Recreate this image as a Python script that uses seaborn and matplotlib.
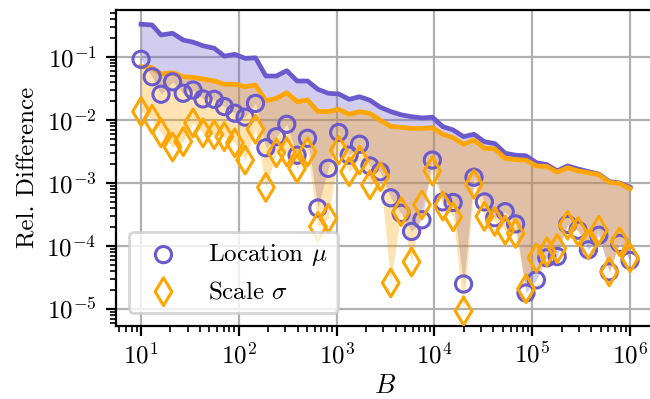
import numpy as np
import matplotlib
matplotlib.use("Agg")
import matplotlib.pyplot as plt
import seaborn as sns

# ---- data ----
B = [10, 13, 16, 21, 27, 34, 43, 56, 71, 91, 116, 148, 189, 242, 309, 394,
     504, 643, 822, 1050, 1342, 1714, 2190, 2798, 3574, 4566, 5834, 7453,
     9522, 12165, 15541, 19855, 25366, 32405, 41400, 52890, 67570, 86325,
     110285, 140892, 180000, 229960, 293780, 375320, 479490, 612570,
     782590, 1000000]

loc_diff = [0.091, 0.048, 0.0254, 0.040, 0.0263, 0.0296, 0.0214, 0.0211,
            0.0162, 0.0127, 0.011, 0.0182, 0.0036, 0.0054, 0.0085, 0.00275,
            0.0051, 0.0004, 0.0017, 0.0063, 0.00275, 0.0041, 0.00186, 0.0015,
            0.00058, 0.00033, 0.00017, 0.00026, 0.0023, 0.0005, 0.00049,
            2.5e-5, 0.00123, 0.0005, 0.00028, 0.00035, 0.000224, 1.8e-5,
            2.9e-5, 6.5e-5, 6.8e-5, 0.000219, 0.000178, 8.7e-5, 0.000148,
            3.9e-5, 0.00011, 5.9e-5]

scale_diff = [0.0135, 0.0102, 0.0062, 0.0037, 0.0045, 0.0089, 0.0062, 0.0058,
              0.0054, 0.0043, 0.0023, 0.0071, 0.00085, 0.003, 0.0031, 0.0017,
              0.0031, 0.000204, 0.000275, 0.0033, 0.0015, 0.0023, 0.00093,
              0.00126, 2.6e-5, 0.00035, 5.6e-5, 0.00045, 0.00155, 0.00043,
              0.00029, 9.3e-6, 0.00095, 0.000295, 0.000245, 0.000178,
              0.000158, 2.1e-5, 6.5e-5, 8.1e-5, 9.1e-5, 0.000214, 0.00017,
              0.000105, 0.000178, 3.9e-5, 0.000117, 6.5e-5]

loc_bound = [0.327, 0.318, 0.221, 0.235, 0.184, 0.170, 0.149, 0.136, 0.102,
             0.109, 0.094, 0.096, 0.0494, 0.0494, 0.060, 0.0412, 0.0412,
             0.0304, 0.0263, 0.0257, 0.0211, 0.0232, 0.0204, 0.0158, 0.0135,
             0.0120, 0.0112, 0.0107, 0.011, 0.0078, 0.0069, 0.0054, 0.0059,
             0.0045, 0.0042, 0.00295, 0.00275, 0.00269, 0.00209, 0.00195,
             0.00155, 0.00186, 0.00166, 0.00151, 0.00138, 0.00105, 0.00100,
             0.00085]

scale_bound = [0.0695, 0.067, 0.0532, 0.0558, 0.0482, 0.0471, 0.0444, 0.0412,
               0.0366, 0.0366, 0.0335, 0.0356, 0.020, 0.0219, 0.0269, 0.0194,
               0.0206, 0.0135, 0.0135, 0.0147, 0.0122, 0.0135, 0.0126, 0.0098,
               0.0079, 0.0076, 0.0073, 0.0073, 0.0075, 0.0059, 0.0052, 0.0041,
               0.0048, 0.00355, 0.00347, 0.00245, 0.00234, 0.00229, 0.00186,
               0.00182, 0.00148, 0.00174, 0.00155, 0.00145, 0.00135, 0.00102,
               0.00098, 0.00081]

labels = ["Location $\\mu$", "Scale $\\sigma$"]
PURPLE = "#6A5ACD"
ORANGE = "#FFA500"

# ---- style ----
plt.rcParams["font.family"] = "serif"
plt.rcParams["font.serif"] = ["cmr10", "DejaVu Serif"]
plt.rcParams["mathtext.fontset"] = "cm"
plt.rcParams["axes.formatter.use_mathtext"] = True
plt.rcParams["axes.unicode_minus"] = True

fig = plt.figure(figsize=(3.25, 1.995), dpi=200)
ax = fig.add_axes([116 / 650, 1 - 325.7 / 399, (654 - 116) / 650, (325.7 - 10) / 399])

ax.fill_between(B, loc_diff, loc_bound, color=PURPLE, alpha=0.3, lw=0, zorder=1)
ax.fill_between(B, scale_diff, scale_bound, color=ORANGE, alpha=0.3, lw=0, zorder=1)

sns.lineplot(x=B, y=loc_bound, color=PURPLE, lw=1.7, ax=ax, zorder=2)
sns.lineplot(x=B, y=scale_bound, color=ORANGE, lw=1.7, ax=ax, zorder=2)

sns.scatterplot(x=B, y=loc_diff, marker="o", s=34, color=PURPLE,
                facecolor="none", edgecolor=PURPLE, linewidth=1.1,
                label=labels[0], ax=ax, zorder=3)
sns.scatterplot(x=B, y=scale_diff, marker="d", s=50, color=ORANGE,
                facecolor="none", edgecolor=ORANGE, linewidth=1.1,
                label=labels[1], ax=ax, zorder=4)

ax.set_xscale("log")
ax.set_yscale("log")
ax.set_xlim(10 ** 0.744, 10 ** 6.245)
ax.set_ylim(10 ** -5.263, 10 ** -0.26)
ax.grid(True, which="major", color="#b0b0b0", lw=0.8)
ax.set_axisbelow(True)

ax.set_xlabel("$B$", fontsize=9.5, labelpad=2)
ax.set_ylabel("Rel. Difference", fontsize=9, labelpad=2.5)
ax.tick_params(labelsize=9)
ax.tick_params(axis="x", pad=2.5)

ax.legend(loc="lower left", fontsize=9)

fig.savefig("out.png", dpi=200)
